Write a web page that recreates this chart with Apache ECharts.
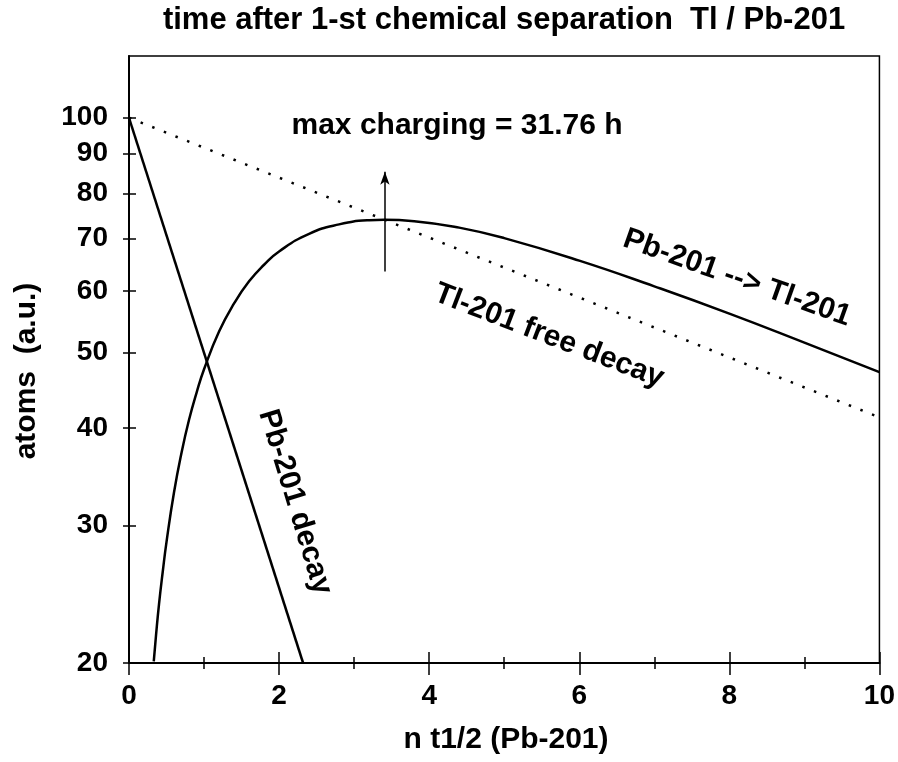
<!DOCTYPE html>
<html>
<head>
<meta charset="utf-8">
<script src="https://cdn.jsdelivr.net/npm/echarts@6/dist/echarts.min.js"></script>
<style>
  html, body { margin: 0; padding: 0; background: #fff; }
  #main { width: 898px; height: 762px; }
</style>
</head>
<body>
<div id="main"></div>
<script>
// y ticks (log axis)
var yTicks = [20, 30, 40, 50, 60, 70, 80, 90, 100];

// Pb-201 decay (straight on log scale)
var pbDecayX = [0, 2.32];
var pbDecayY = [100, 20];

// Tl-201 free decay (dotted)
var tlFreeX = [0, 10];
var tlFreeY = [100, 41.3];

// Pb-201 --> Tl-201 ingrowth
var growX = [0.33, 0.36, 0.4, 0.45, 0.5, 0.6, 0.7, 0.8, 0.9, 1.0, 1.2, 1.4, 1.6, 1.8, 2.0,
             2.4, 2.8, 3.2, 3.4, 3.8, 4.4, 5, 6, 7, 8, 9, 10];
var growY = [20.1, 21.7, 23.8, 26.2, 28.6, 33.1, 37.2, 41.0, 44.4, 47.6, 53.2, 57.8, 61.7, 64.8, 67.4,
             71.0, 73.0, 73.9, 74.0, 73.7, 72.3, 70.1, 65.6, 60.8, 56.1, 51.5, 47.2];

// max charging arrow
var maxX = 3.41;
var arrowY = [63.5, 85.3];

function pairs(xs, ys) {
    var out = [];
    for (var i = 0; i < xs.length; i++) out.push([xs[i], ys[i]]);
    return out;
}

var font = '"Liberation Sans", Arial, sans-serif';
var myChart = echarts.init(document.getElementById('main'));

var txt = function (text, x, y, size, rot) {
    return {
        type: 'text', x: x, y: y, rotation: (rot || 0) * Math.PI / 180,
        style: {
            text: text, fill: '#000', font: 'bold ' + size + 'px ' + font,
            align: 'center', verticalAlign: 'middle'
        }
    };
};

var option = {
    backgroundColor: '#fff',
    animation: false,
    grid: {
        left: 129, right: 17, top: 56, bottom: 99,
        show: true, borderColor: '#000', borderWidth: 1.5
    },
    xAxis: [
        {
            type: 'value', min: 0, max: 10, interval: 2,
            axisLine: { lineStyle: { color: '#000', width: 2 } },
            axisTick: { length: 12, lineStyle: { color: '#000', width: 1.5 } },
            minorTick: { show: true, splitNumber: 2, length: 6, lineStyle: { color: '#000', width: 1.5 } },
            splitLine: { show: false },
            axisLabel: { margin: 19, color: '#000', fontSize: 28, fontWeight: 'bold', fontFamily: font }
        },
        {
            type: 'value', min: 0, max: 10, interval: 2, position: 'bottom',
            axisLine: { show: false },
            axisTick: { inside: true, length: 11, lineStyle: { color: '#000', width: 1.5 } },
            minorTick: { show: true, splitNumber: 2, length: 6, lineStyle: { color: '#000', width: 1.5 } },
            splitLine: { show: false },
            axisLabel: { show: false }
        }
    ],
    yAxis: [
        {
            type: 'log', logBase: 10, min: 20, max: 120,
            axisLine: { show: true, lineStyle: { color: '#000', width: 2 } },
            axisTick: { show: true, length: 6, customValues: yTicks, lineStyle: { color: '#000', width: 1.5 } },
            splitLine: { show: false },
            minorTick: { show: false },
            minorSplitLine: { show: false },
            axisLabel: { customValues: yTicks, margin: 21, color: '#000', fontSize: 28, fontWeight: 'bold', fontFamily: font }
        },
        {
            type: 'log', logBase: 10, min: 20, max: 120, position: 'left',
            axisLine: { show: false },
            axisTick: { show: true, inside: true, length: 7, customValues: yTicks, lineStyle: { color: '#000', width: 1.5 } },
            splitLine: { show: false },
            axisLabel: { show: false }
        }
    ],
    graphic: [
        txt('time after 1-st chemical separation  Tl / Pb-201', 504, 20, 31),
        txt('max charging = 31.76 h', 457, 126, 30),
        txt('Pb-201 --> Tl-201', 737, 278, 30, -19.5),
        txt('Tl-201 free decay', 549, 336, 30, -21),
        txt('Pb-201 decay', 295, 502, 30, -73),
        txt('atoms  (a.u.)', 27, 371, 30, 90),
        txt('n t1/2 (Pb-201)', 506, 740, 30)
    ],
    series: [
        {
            name: 'Pb-201 decay', type: 'line', symbol: 'none',
            data: pairs(pbDecayX, pbDecayY),
            lineStyle: { color: '#000', width: 2.5 }
        },
        {
            name: 'Tl-201 free decay', type: 'line', symbol: 'none',
            data: pairs(tlFreeX, tlFreeY),
            lineStyle: { color: '#000', width: 2.5, type: [2.5, 10] }
        },
        {
            name: 'Pb-201 --> Tl-201', type: 'line', symbol: 'none', smooth: true,
            data: pairs(growX, growY),
            lineStyle: { color: '#000', width: 2.5 },
            markLine: {
                silent: true,
                symbol: ['none', 'arrow'],
                symbolSize: [7, 13],
                label: { show: false },
                lineStyle: { color: '#000', width: 1.5, type: 'solid' },
                data: [[{ coord: [maxX, arrowY[0]] }, { coord: [maxX, arrowY[1]] }]]
            }
        }
    ]
};
myChart.setOption(option);
</script>
</body>
</html>
